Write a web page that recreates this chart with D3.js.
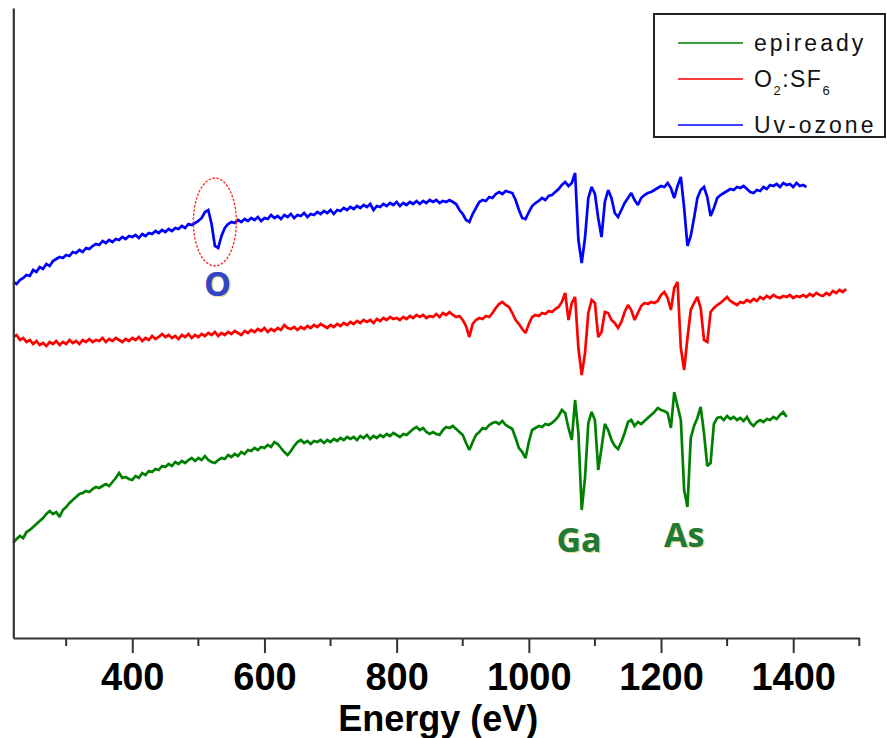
<!DOCTYPE html>
<html>
<head>
<meta charset="utf-8">
<script src="https://cdn.jsdelivr.net/npm/d3@7"></script>
<style>
  html, body { margin: 0; padding: 0; background: #fff; }
  svg { display: block; }
</style>
</head>
<body>
<svg id="chart" width="887" height="738"></svg>
<script>
// ---------------- DATA ----------------
// Energy grid: each series sampled every 5 eV from its start energy.
const energyStep = 5;
const seriesNames = ["epiready", "O2:SF6", "Uv-ozone"];
const seriesColors = ["#008000", "#ff0000", "#0000ff"];
const xTicksMajor = [400, 600, 800, 1000, 1200, 1400];
const xTicksMinor = [300, 500, 700, 900, 1100, 1300, 1500];
const xAxisTitle = "Energy (eV)";
const peakLabels = ["O", "Ga", "As"];
const peakEnergies = [529, 1076, 1235];

// Uv-ozone (blue), 220 .. 1420 eV, intensity (a.u.)
const uvStart = 220;
const uvSignal = [
  356,354,358,360,363,362,368,366,371,369,374,372,377,379,381,380,383,382,386,385,
  388,386,390,389,392,394,393,397,395,398,396,399,398,401,399,402,401,403,400,404,
  402,405,404,407,405,408,406,409,407,410,409,412,410,414,413,415,417,420,426,428,
  414,392,390,402,410,414,416,415,418,416,419,417,420,418,421,417,420,419,423,420,
  422,419,423,421,424,420,423,422,425,421,424,423,426,424,427,425,428,424,428,427,
  430,428,431,429,432,430,433,431,434,428,432,431,434,432,435,433,436,432,435,433,
  436,434,437,434,437,435,438,436,438,435,437,436,438,436,434,428,424,418,416,424,
  430,436,438,437,441,440,444,446,444,447,446,445,438,428,420,419,426,432,435,437,
  440,438,442,443,446,449,453,456,452,455,465,398,375,400,440,451,444,420,401,436,
  448,440,425,421,428,435,440,445,438,433,440,443,445,446,448,450,452,451,455,450,
  440,452,461,430,392,402,420,440,448,451,441,422,430,440,443,445,447,449,448,451,
  450,452,449,446,445,448,447,451,449,453,452,454,451,455,453,454,451,455,452,453,
  451
];

// O2:SF6 (red), 220 .. 1480 eV
const o2Start = 220;
const o2Signal = [
  301,303,298,300,296,298,294,297,293,295,292,296,294,297,293,296,294,298,295,297,
  294,298,296,299,296,298,297,300,296,299,297,300,298,296,299,297,300,298,301,297,
  300,298,302,299,301,304,301,303,300,302,299,303,301,304,300,303,301,304,302,305,
  303,306,302,305,303,306,304,307,305,303,307,305,308,306,309,307,310,306,309,307,
  310,308,313,310,309,311,308,311,309,312,310,313,311,314,312,310,313,311,314,312,
  315,313,316,314,317,315,318,316,318,315,319,317,320,318,321,319,320,318,321,319,
  322,320,323,321,323,320,322,321,324,321,325,323,326,323,321,322,318,312,301,314,
  318,320,319,322,321,325,330,334,336,333,331,325,318,314,309,305,314,321,323,322,
  325,324,327,326,329,331,336,345,318,335,341,290,263,285,325,338,335,301,306,326,
  325,318,315,310,316,326,333,328,318,325,332,335,334,336,335,337,343,346,340,328,
  350,356,290,268,300,328,335,341,330,298,296,326,330,333,335,338,341,337,335,333,
  336,335,338,336,339,337,341,339,342,340,343,341,340,342,341,343,340,342,341,343,
  341,344,342,345,343,342,345,343,347,345,348,346,349
];

// epiready (green), 220 .. 1390 eV
const epiStart = 220;
const epiSignal = [
  95,99,102,100,106,108,111,114,117,120,124,127,124,126,121,128,131,135,138,141,
  144,145,147,146,149,151,150,152,154,152,156,160,165,160,161,159,158,162,160,165,
  163,167,166,169,168,172,171,174,172,176,174,177,175,178,180,177,180,178,182,178,
  176,175,178,180,179,183,181,184,182,186,184,188,187,190,188,191,190,193,191,196,
  194,190,186,183,187,192,196,198,195,197,194,197,196,198,195,198,196,199,197,200,
  198,201,199,201,198,202,200,203,199,202,200,203,201,204,202,205,203,201,204,203,
  206,209,211,208,210,206,204,206,204,203,208,211,210,212,209,206,203,195,188,196,
  203,206,210,209,213,215,216,214,217,213,211,209,200,190,186,180,196,208,210,212,
  211,214,213,215,218,222,228,225,210,198,238,205,128,160,215,226,218,168,190,214,
  208,198,192,189,196,205,216,218,212,216,214,217,220,223,226,230,228,227,225,210,
  246,232,218,148,131,200,212,220,231,205,172,175,214,220,221,218,222,219,221,218,
  220,217,221,215,212,216,218,216,219,218,221,219,223,226,221
];

// ---------------- CHART ----------------
const svg = d3.select("#chart");
svg.append("rect").attr("width", 887).attr("height", 738).attr("fill", "#fff");

const x = d3.scaleLinear().domain([220, 1500]).range([13.3, 859.3]);
const y = d3.scaleLinear().domain([0, 630]).range([638, 8]);

const toPoints = (start, arr) => arr.map((v, i) => ({ e: start + i * energyStep, v }));
const series = [
  toPoints(epiStart, epiSignal),
  toPoints(o2Start, o2Signal),
  toPoints(uvStart, uvSignal)
];

const lineGen = d3.line().x(d => x(d.e)).y(d => y(d.v));

svg.append("g").selectAll("path").data(series).join("path")
  .attr("d", d => lineGen(d))
  .attr("fill", "none")
  .attr("stroke", (d, i) => seriesColors[i])
  .attr("stroke-width", 2.7)
  .attr("stroke-linejoin", "miter")
  .attr("stroke-miterlimit", 2);

// Axes
const axisColor = "#333";
const gx = svg.append("g").attr("transform", `translate(0,638)`);
gx.call(d3.axisBottom(x).tickValues(xTicksMajor).tickSize(15).tickSizeOuter(0).tickFormat(d3.format("d")));
gx.select(".domain").attr("stroke", axisColor).attr("stroke-width", 2.2);
gx.selectAll(".tick line").attr("stroke", axisColor).attr("stroke-width", 2);
gx.selectAll(".tick text")
  .attr("fill", "#000")
  .attr("font-family", "'Liberation Sans', Arial, sans-serif")
  .attr("font-weight", "bold")
  .attr("font-size", 38)
  .attr("dy", null)
  .attr("y", 52);

const gxm = svg.append("g").attr("transform", `translate(0,638)`);
gxm.selectAll("line").data(xTicksMinor).join("line")
  .attr("x1", d => x(d)).attr("x2", d => x(d))
  .attr("y1", 0).attr("y2", 8)
  .attr("stroke", axisColor).attr("stroke-width", 2);

const gy = svg.append("g").attr("transform", `translate(13.3,0)`);
gy.call(d3.axisLeft(y).tickValues([]).tickSizeOuter(0));
gy.select(".domain").attr("stroke", axisColor).attr("stroke-width", 2.2);

svg.append("text")
  .attr("x", (x.range()[0] + x.range()[1]) / 2 + 2)
  .attr("y", 731)
  .attr("text-anchor", "middle")
  .attr("font-family", "'Liberation Sans', Arial, sans-serif")
  .attr("font-weight", "bold")
  .attr("font-size", 36)
  .attr("fill", "#000")
  .text(xAxisTitle);

// Annotations
// Red dotted ellipse around the O peak
svg.append("ellipse")
  .attr("cx", x(525)).attr("cy", y(416))
  .attr("rx", 21.5).attr("ry", 44)
  .attr("fill", "none")
  .attr("stroke", "#ff2020")
  .attr("stroke-width", 1.3)
  .attr("stroke-dasharray", "2.5,1.5");

const labelColors = ["#3346c8", "#1f7a35", "#1f7a35"];
const labelY = [y(638 - 296), y(638 - 552), y(638 - 547)];
peakLabels.forEach((t, i) => {
  const g = svg.append("g");
  g.append("text")
    .attr("x", x(peakEnergies[i]) + 1.5).attr("y", labelY[i] + 1)
    .attr("text-anchor", "middle")
    .attr("font-family", "'Open Sans', 'Noto Sans', sans-serif")
    .attr("font-weight", "bold").attr("font-size", 34)
    .attr("fill", "#e9d27a").attr("opacity", 0.8)
    .text(t);
  g.append("text")
    .attr("x", x(peakEnergies[i])).attr("y", labelY[i])
    .attr("text-anchor", "middle")
    .attr("font-family", "'Open Sans', 'Noto Sans', sans-serif")
    .attr("font-weight", "bold").attr("font-size", 34)
    .attr("fill", labelColors[i])
    .text(t);
});

// Legend
const legend = svg.append("g");
legend.append("rect")
  .attr("x", 654).attr("y", 14).attr("width", 231).attr("height", 123)
  .attr("fill", "#fff").attr("stroke", "#222").attr("stroke-width", 2);
const legendY = [43, 79, 125];
seriesNames.forEach((name, i) => {
  legend.append("line")
    .attr("x1", 678).attr("x2", 743)
    .attr("y1", legendY[i]).attr("y2", legendY[i])
    .attr("stroke", seriesColors[i]).attr("stroke-width", 1.6);
  const t = legend.append("text")
    .attr("x", 754).attr("y", legendY[i] + 8)
    .attr("font-family", "'Liberation Sans', Arial, sans-serif")
    .attr("font-size", 23)
    .attr("letter-spacing", 3)
    .attr("fill", "#111");
  if (name === "O2:SF6") {
    t.attr("letter-spacing", 1.5);
    t.append("tspan").text("O");
    t.append("tspan").attr("font-size", 13).attr("dy", 8).text("2");
    t.append("tspan").attr("dy", -8).text(":SF");
    t.append("tspan").attr("font-size", 13).attr("dy", 8).text("6");
  } else {
    t.text(name);
  }
});
</script>
</body>
</html>
